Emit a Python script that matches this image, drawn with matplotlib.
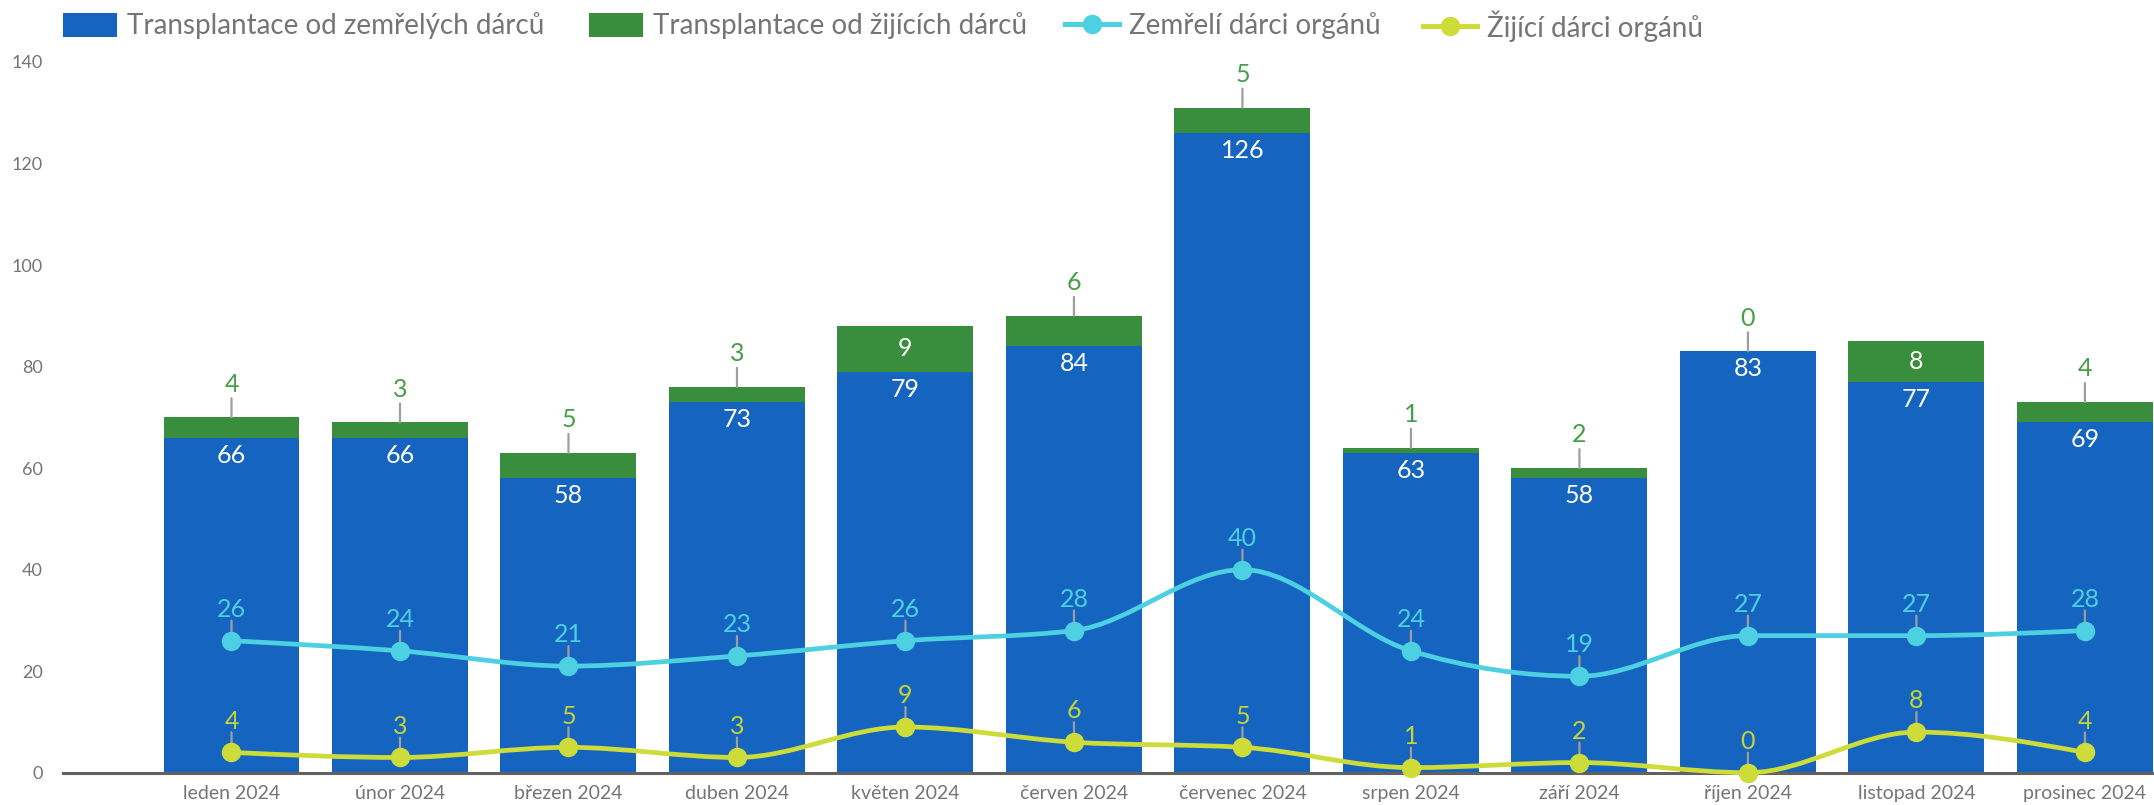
import numpy as np
import matplotlib
matplotlib.use('Agg')
import matplotlib.pyplot as plt
from matplotlib.path import Path
from matplotlib.patches import PathPatch, Patch
from matplotlib.lines import Line2D

plt.rcParams['font.family'] = ['Lato', 'DejaVu Sans']

# ---------------- data ----------------
months = ['leden 2024', 'únor 2024', 'březen 2024', 'duben 2024', 'květen 2024',
          'červen 2024', 'červenec 2024', 'srpen 2024', 'září 2024', 'říjen 2024',
          'listopad 2024', 'prosinec 2024']
tx_deceased = [66, 66, 58, 73, 79, 84, 126, 63, 58, 83, 77, 69]
tx_living = [4, 3, 5, 3, 9, 6, 5, 1, 2, 0, 8, 4]
donors_deceased = [26, 24, 21, 23, 26, 28, 40, 24, 19, 27, 27, 28]
donors_living = [4, 3, 5, 3, 9, 6, 5, 1, 2, 0, 8, 4]
y_ticks = [0, 20, 40, 60, 80, 100, 120, 140]
names = ['Transplantace od zemřelých dárců', 'Transplantace od žijících dárců',
         'Zemřelí dárci orgánů', 'Žijící dárci orgánů']

# ---------------- style ----------------
BLUE = '#1565C0'
GREEN = '#388E3C'
GREEN_TXT = '#43A047'
CYAN = '#4DD0E1'
YELLOW = '#CDDC39'
YELLOW_TXT = '#C6D435'
GRAY_TXT = '#757575'
LEADER = '#9E9E9E'
INSIDE_MIN = 7


def monotone_path(xs, ys):
    xs = np.asarray(xs, float)
    ys = np.asarray(ys, float)
    n = len(xs)
    h = np.diff(xs)
    s = np.diff(ys) / h
    t = np.zeros(n)
    for i in range(1, n - 1):
        p = (s[i - 1] * h[i] + s[i] * h[i - 1]) / (h[i - 1] + h[i])
        t[i] = (np.sign(s[i - 1]) + np.sign(s[i])) * min(abs(s[i - 1]), abs(s[i]), 0.5 * abs(p))
    t[0] = (3 * s[0] - t[1]) / 2
    t[-1] = (3 * s[-1] - t[-2]) / 2
    verts = [(xs[0], ys[0])]
    codes = [Path.MOVETO]
    for i in range(n - 1):
        dx = h[i] / 3
        verts += [(xs[i] + dx, ys[i] + dx * t[i]),
                  (xs[i + 1] - dx, ys[i + 1] - dx * t[i + 1]),
                  (xs[i + 1], ys[i + 1])]
        codes += [Path.CURVE4] * 3
    return Path(verts, codes)


W, H = 2154, 805
fig = plt.figure(figsize=(W / 100, H / 100), dpi=100)
ax_left, ax_bottom = 63 / W, (H - 772.7) / H
ax_top = (H - 62) / H
ax = fig.add_axes([ax_left, ax_bottom, 1 - ax_left, ax_top - ax_bottom])

x = np.arange(len(months))
bw = 0.807
ax.bar(x, tx_deceased, width=bw, color=BLUE, zorder=2)
ax.bar(x, tx_living, width=bw, bottom=tx_deceased, color=GREEN, zorder=2)

for series, color in [(donors_deceased, CYAN), (donors_living, YELLOW)]:
    ax.add_patch(PathPatch(monotone_path(x, series), facecolor='none', edgecolor=color,
                           lw=3.4, zorder=4, clip_on=False, capstyle='round'))
    ax.plot(x, series, 'o', color=color, markersize=13, zorder=5, clip_on=False)

LBL = 18


def leader(xi, yi, length_pt, shrink_pt=0):
    ax.annotate('', xy=(xi, yi), xytext=(0, length_pt), textcoords='offset points',
                arrowprops=dict(arrowstyle='-', color=LEADER, lw=1.6,
                                shrinkA=0, shrinkB=shrink_pt), zorder=3)


for i in range(len(months)):
    d = tx_deceased[i]
    l = tx_living[i]
    ax.annotate(str(d), xy=(i, d), xytext=(0, -12.5), textcoords='offset points',
                ha='center', va='center', color='white', fontsize=LBL, zorder=6)
    if l >= INSIDE_MIN:
        ax.annotate(str(l), xy=(i, d + l / 2), xytext=(0, 0), textcoords='offset points',
                    ha='center', va='center', color='white', fontsize=LBL, zorder=6)
    else:
        leader(i, d + l, 13.7)
        ax.annotate(str(l), xy=(i, d + l), xytext=(0, 24), textcoords='offset points',
                    ha='center', va='center', color=GREEN_TXT, fontsize=LBL, zorder=6)
    for series, tcol in [(donors_deceased, CYAN), (donors_living, YELLOW_TXT)]:
        v = series[i]
        leader(i, v, 14.4, 6.5)
        ax.annotate(str(v), xy=(i, v), xytext=(0, 22.5), textcoords='offset points',
                    ha='center', va='center', color=tcol, fontsize=LBL, zorder=6)

ax.set_xlim(-1.0, 11.41)
ax.set_ylim(0, 140)
ax.set_xticks(x)
ax.set_xticklabels(months)
ax.set_yticks(y_ticks)
ax.tick_params(axis='x', length=0, pad=9, labelsize=14, labelcolor=GRAY_TXT)
ax.tick_params(axis='y', length=0, pad=14.4, labelsize=13, labelcolor=GRAY_TXT)
for s in ['top', 'right', 'left']:
    ax.spines[s].set_visible(False)
ax.spines['bottom'].set_color('#616161')
ax.spines['bottom'].set_linewidth(2.2)
ax.spines['bottom'].set_zorder(3)

# ---------------- legend ----------------
FS = 20
fs_px = FS / 0.72
handles = [Patch(facecolor=BLUE), Patch(facecolor=GREEN),
           Line2D([], [], color=CYAN, lw=3.6, marker='o', markersize=13),
           Line2D([], [], color=YELLOW, lw=3.6, marker='o', markersize=13)]
lefts = [63, 589, 1065, 1423]
for h, name, lx in zip(handles, names, lefts):
    fig.legend(handles=[h], labels=[name], loc='center left',
               bbox_to_anchor=(lx / W, 1 - 26 / H), frameon=False, fontsize=FS,
               labelcolor=GRAY_TXT, borderpad=0, borderaxespad=0,
               handlelength=54 / fs_px, handleheight=26 / fs_px,
               handletextpad=10 / fs_px, numpoints=1)

fig.savefig('out.png', dpi=100)
